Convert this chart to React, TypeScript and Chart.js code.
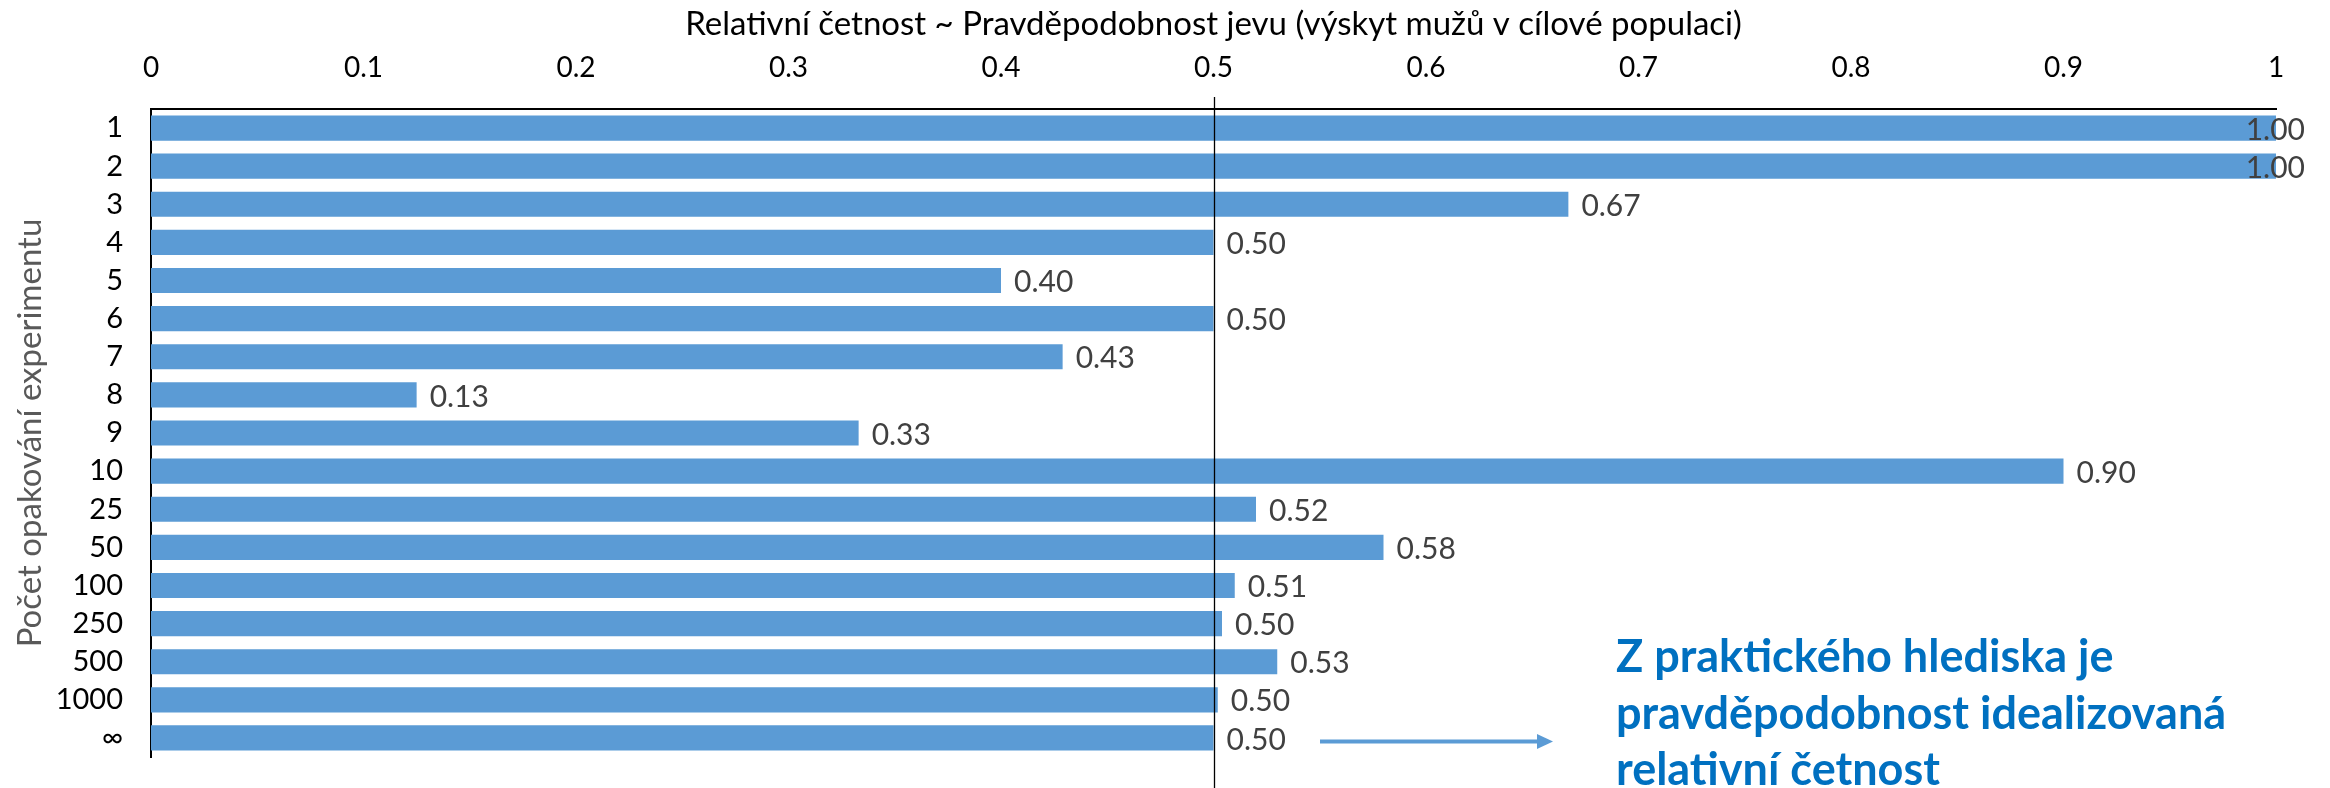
import React, { useEffect, useRef } from 'react';
import { Chart, registerables } from 'chart.js';

Chart.register(...registerables);

// ---- data ----
const categories = ['1', '2', '3', '4', '5', '6', '7', '8', '9', '10', '25', '50', '100', '250', '500', '1000', '∞'];
const relativeFrequency = [1.0, 1.0, 0.667, 0.5, 0.4, 0.5, 0.429, 0.125, 0.333, 0.9, 0.52, 0.58, 0.51, 0.504, 0.53, 0.502, 0.5];
const xTickLabels = ['0', '0.1', '0.2', '0.3', '0.4', '0.5', '0.6', '0.7', '0.8', '0.9', '1'];
const referenceValue = 0.5;
const xAxisTitle = 'Relativní četnost ~ Pravděpodobnost jevu (výskyt mužů v cílové populaci)';
const yAxisTitle = 'Počet opakování experimentu';
const annotationLines = ['Z praktického hlediska je', 'pravděpodobnost idealizovaná', 'relativní četnost'];

const FONT = 'Lato, "DejaVu Sans", sans-serif';
const BAR_COLOR = '#5B9BD5';
const W = 2330;
const H = 788;

const refLinePlugin = {
  id: 'refLine',
  afterDatasetsDraw(chart: any) {
    const { ctx } = chart;
    const xs = chart.scales.x;
    const x = Math.round(xs.getPixelForValue(referenceValue)) + 0.5;
    ctx.save();
    ctx.strokeStyle = '#000';
    ctx.lineWidth = 1.3;
    ctx.beginPath();
    ctx.moveTo(x, chart.chartArea.top - 12);
    ctx.lineTo(x, H);
    ctx.stroke();
    ctx.restore();
  },
};

const dataLabelPlugin = {
  id: 'dataLabels',
  afterDatasetsDraw(chart: any) {
    const { ctx } = chart;
    const meta = chart.getDatasetMeta(0);
    const vals = chart.data.datasets[0].data as number[];
    ctx.save();
    ctx.font = `30px ${FONT}`;
    ctx.fillStyle = '#404040';
    ctx.textBaseline = 'middle';
    ctx.textAlign = 'left';
    meta.data.forEach((el: any, i: number) => {
      const txt = vals[i].toFixed(2);
      const w = ctx.measureText(txt).width;
      let x = el.x + 13;
      const maxX = chart.width - 25 - w;
      if (x > maxX) x = maxX;
      ctx.fillText(txt, x, el.y + 2);
    });
    ctx.restore();
  },
};

const annotationPlugin = {
  id: 'annotation',
  afterDraw(chart: any) {
    const { ctx } = chart;
    ctx.save();
    ctx.fillStyle = '#0070C0';
    ctx.font = `bold 45px ${FONT}`;
    ctx.textBaseline = 'alphabetic';
    ctx.textAlign = 'left';
    const baseY = [672, 729, 785];
    annotationLines.forEach((line, i) => ctx.fillText(line, 1616, baseY[i]));
    // arrow
    ctx.strokeStyle = BAR_COLOR;
    ctx.fillStyle = BAR_COLOR;
    ctx.lineWidth = 4;
    ctx.beginPath();
    ctx.moveTo(1320, 741.5);
    ctx.lineTo(1540, 741.5);
    ctx.stroke();
    ctx.beginPath();
    ctx.moveTo(1537, 734);
    ctx.lineTo(1553, 741.5);
    ctx.lineTo(1537, 749);
    ctx.closePath();
    ctx.fill();
    ctx.restore();
  },
};

export default function App() {
  const ref = useRef<HTMLCanvasElement | null>(null);
  useEffect(() => {
    if (!ref.current) return;
    const chart = new Chart(ref.current, {
      type: 'bar',
      data: {
        labels: categories,
        datasets: [
          {
            data: relativeFrequency,
            backgroundColor: BAR_COLOR,
            borderWidth: 0,
            categoryPercentage: 1,
            barPercentage: 0.66,
          },
        ],
      },
      options: {
        indexAxis: 'y',
        responsive: false,
        animation: false,
        devicePixelRatio: 1,
        layout: { padding: { left: 0, top: 0, right: 54, bottom: 31 } },
        plugins: { legend: { display: false }, tooltip: { enabled: false } },
        scales: {
          x: {
            position: 'top',
            min: 0,
            max: 1,
            ticks: {
              stepSize: 0.1,
              padding: 24,
              color: '#000',
              font: { family: FONT, size: 28 },
              maxRotation: 0,
              callback: (_v: any, i: number) => xTickLabels[i],
            },
            grid: { display: false, drawTicks: false },
            border: { display: true, color: '#000', width: 2 },
            title: {
              display: true,
              text: xAxisTitle,
              color: '#000',
              font: { family: FONT, size: 33 },
              padding: { top: 5, bottom: 0 },
            },
            afterFit: (s: any) => {
              s.height = 109;
              s.paddingLeft = 0;
              s.paddingRight = 0;
            },
          },
          y: {
            ticks: {
              padding: 28,
              autoSkip: false,
              color: '#000',
              font: { family: FONT, size: 29 },
            },
            grid: { display: false, drawTicks: false },
            border: { display: true, color: '#000', width: 2 },
            title: {
              display: true,
              text: yAxisTitle,
              color: '#595959',
              font: { family: FONT, size: 33 },
              padding: { top: 11, bottom: 0 },
            },
            afterFit: (s: any) => {
              s.width = 151;
              s.paddingTop = 0;
              s.paddingBottom = 0;
            },
          },
        },
      },
      plugins: [refLinePlugin, dataLabelPlugin, annotationPlugin],
    } as any);
    return () => chart.destroy();
  }, []);
  return (
    <canvas
      ref={ref}
      width={W}
      height={H}
      style={{ position: 'absolute', left: 0, top: 0, width: W, height: H }}
    />
  );
}
